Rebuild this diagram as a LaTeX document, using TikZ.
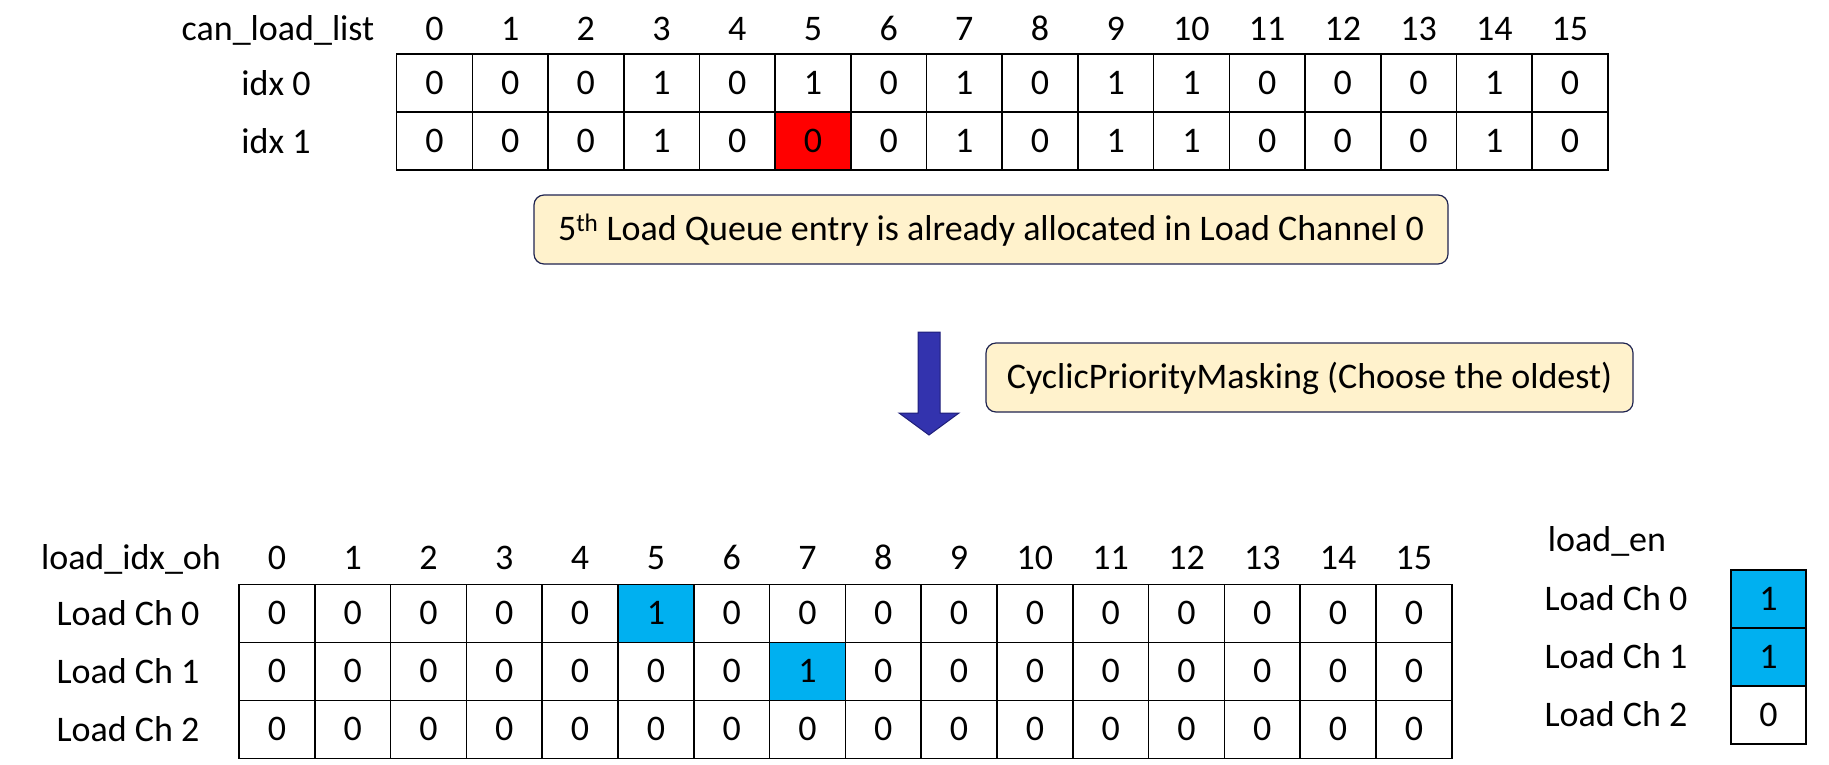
\documentclass[tikz,border=0pt]{standalone}
\usepackage{fontspec}
\setmainfont{Carlito}
\definecolor{boxfill}{HTML}{FFF2CC}
\definecolor{boxline}{HTML}{1F2450}
\definecolor{hotred}{HTML}{FF0000}
\definecolor{selblue}{HTML}{00B0F0}
\definecolor{arrowfill}{HTML}{3333AE}
\definecolor{arrowline}{HTML}{1F1F7A}
\begin{document}
\begin{tikzpicture}[x=1pt,y=-1pt,
  txt/.style={font=\fontsize{36}{43}\selectfont, inner sep=0pt, text height=22.7pt, text depth=0pt},
  cell/.style={txt, draw=black, line width=1.6pt, minimum width=75.7pt, minimum height=58pt},
  bcell/.style={cell, minimum width=75.8pt},
  ecell/.style={cell, minimum width=75pt},
  note/.style={txt, draw=boxline, line width=1.2pt, fill=boxfill, rounded corners=10pt}
]
\useasboundingbox (0,0) rectangle (1829,764);

% ---------- top table ----------
\node[txt] (hdrtop) at (278,29.5) {can\_load\_list};
\foreach \c in {0,...,15} {
  \node[txt] (th\c) at (434.45+75.7*\c,29.5) {\c};
}
\node[txt] (lidx0) at (276,84) {idx 0};
\node[txt] (lidx1) at (276,142) {idx 1};
\foreach \v [count=\n from 0] in {0,0,0,1,0,1,0,1,0,1,1,0,0,0,1,0} {
  \node[cell] (t0-\n) at (434.45+75.7*\n,83) {\v};
}
\foreach \v [count=\n from 0] in {0,0,0,1,0,0,0,1,0,1,1,0,0,0,1,0} {
  \ifnum\n=5
    \node[cell,fill=hotred] (t1-\n) at (434.45+75.7*\n,141) {\v};
  \else
    \node[cell] (t1-\n) at (434.45+75.7*\n,141) {\v};
  \fi
}

% ---------- notes ----------
\node[note, minimum width=914pt, minimum height=69pt] (note1) at (991,229.5)
  {5\textsuperscript{th} Load Queue entry is already allocated in Load Channel 0};
\node[note, minimum width=647pt, minimum height=69pt] (note2) at (1309.5,377.5)
  {CyclicPriorityMasking (Choose the oldest)};

% ---------- block arrow ----------
\coordinate (atop) at (929,332);
\coordinate (atip) at (929,435);
\draw[fill=arrowfill, draw=arrowline, line width=1pt, line join=miter]
  ([xshift=-11pt]atop) -- ([xshift=11pt]atop) -- ([xshift=11pt,yshift=22pt]atip)
  -- ([xshift=30pt,yshift=22pt]atip) -- (atip) -- ([xshift=-30pt,yshift=22pt]atip)
  -- ([xshift=-11pt,yshift=22pt]atip) -- cycle;

% ---------- bottom table ----------
\node[txt] (hdrbot) at (131,558.5) {load\_idx\_oh};
\foreach \c in {0,...,15} {
  \node[txt] (bh\c) at (276.9+75.8*\c,558.5) {\c};
}
\foreach \r in {0,1,2} {
  \node[txt] (lch\r) at (128,614+58*\r) {Load Ch \r};
  \foreach \n in {0,...,15} {
    \pgfmathtruncatemacro{\hit}{(\r==0 && \n==5) || (\r==1 && \n==7) ? 1 : 0}
    \ifnum\hit=1
      \node[bcell,fill=selblue] (b\r-\n) at (276.9+75.8*\n,613.5+58*\r) {1};
    \else
      \node[bcell] (b\r-\n) at (276.9+75.8*\n,613.5+58*\r) {0};
    \fi
  }
}

% ---------- load_en ----------
\node[txt] (hdren) at (1607,540.5) {load\_en};
\node[txt] (len0) at (1616,599) {Load Ch 0};
\node[txt] (len1) at (1616,657) {Load Ch 1};
\node[txt] (len2) at (1616,715) {Load Ch 2};
\node[ecell,fill=selblue] (en0) at (1768.5,599) {1};
\node[ecell,fill=selblue] (en1) at (1768.5,657) {1};
\node[ecell] (en2) at (1768.5,715) {0};
\end{tikzpicture}
\end{document}
